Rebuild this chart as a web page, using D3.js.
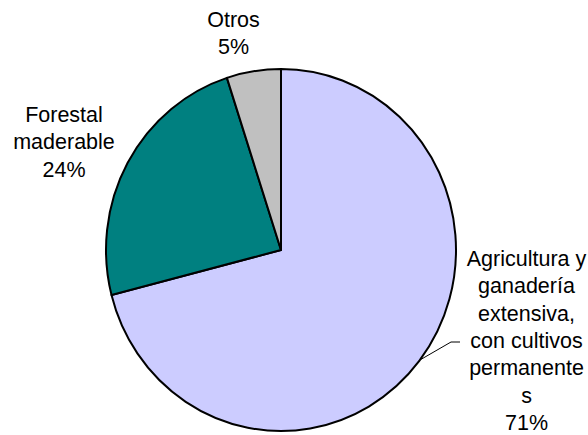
<!DOCTYPE html>
<html>
<head>
<meta charset="utf-8">
<script src="https://cdn.jsdelivr.net/npm/d3@7/dist/d3.min.js"></script>
<style>
  html, body { margin: 0; padding: 0; background: #ffffff; }
  svg { display: block; }
  text { font-family: "Liberation Sans", Arial, sans-serif; font-size: 21.5px; fill: #000; }
</style>
</head>
<body>
<svg id="chart" width="588" height="435"></svg>
<script>
// Land use shares (percent)
const categories = [
  "Agricultura y\nganadería\nextensiva,\ncon cultivos\npermanente\ns",
  "Forestal\nmaderable",
  "Otros"
];
const values = [71, 24, 5];
const colors = ["#CCCCFF", "#008080", "#C0C0C0"];

const svg = d3.select("#chart");

const cx = 281, cy = 250, rx = 175, ry = 181;
const radius = rx;

const data = categories.map((c, i) => ({ name: c, value: values[i], color: colors[i] }));

const pie = d3.pie().value(d => d.value).sort(null);
const arcs = pie(data);
const arc = d3.arc().innerRadius(0).outerRadius(radius);

const g = svg.append("g")
  .attr("transform", `translate(${cx},${cy}) scale(1,${ry / rx})`);

g.selectAll("path.slice")
  .data(arcs)
  .join("path")
  .attr("class", "slice")
  .attr("d", arc)
  .attr("fill", d => d.data.color)
  .attr("stroke", "#000")
  .attr("stroke-width", 2)
  .attr("stroke-linejoin", "round")
  .attr("vector-effect", "non-scaling-stroke");

// Label placement for each slice: anchor (centre x, first baseline)
const labelPos = [
  { x: 526.5, y: 266 },
  { x: 64, y: 122 },
  { x: 233.5, y: 27 }
];
const lineH = 27.3;

arcs.forEach((a, i) => {
  const lines = a.data.name.split("\n").concat([Math.round(a.data.value) + "%"]);
  const t = svg.append("text")
    .attr("text-anchor", "middle")
    .attr("x", labelPos[i].x)
    .attr("y", labelPos[i].y);
  lines.forEach((ln, k) => {
    t.append("tspan")
      .attr("x", labelPos[i].x)
      .attr("dy", k === 0 ? 0 : lineH)
      .text(ln);
  });
});

// Leader line for the largest slice, from its rim to the label
const leadAngle = 127.4 * Math.PI / 180;
const rimX = cx + rx * Math.sin(leadAngle);
const rimY = cy - ry * Math.cos(leadAngle);
svg.append("polyline")
  .attr("points", [[rimX, rimY], [451, 342], [460, 342]].map(p => p.join(",")).join(" "))
  .attr("fill", "none")
  .attr("stroke", "#000")
  .attr("stroke-width", 1);
</script>
</body>
</html>
